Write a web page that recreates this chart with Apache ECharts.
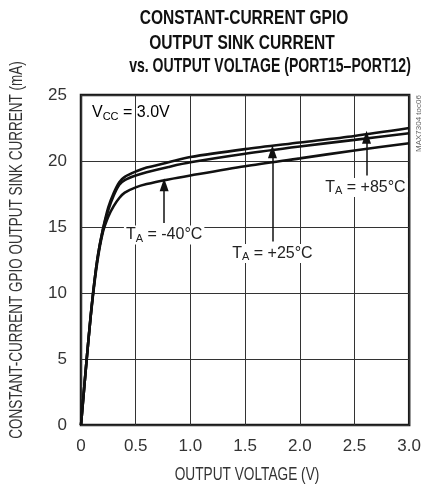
<!DOCTYPE html>
<html>
<head>
<meta charset="utf-8">
<script src="https://cdn.jsdelivr.net/npm/echarts@6/dist/echarts.min.js"></script>
<style>
html, body { margin: 0; padding: 0; background: #fff; }
#chart { width: 424px; height: 489px; }
</style>
</head>
<body>
<div id="chart"></div>
<script>
// output voltage (V)
var volts = [0, 0.05, 0.1, 0.15, 0.2, 0.25, 0.3, 0.35, 0.4, 0.5, 0.6, 0.8, 1.0, 1.5, 2.0, 2.5, 3.0];
// sink current (mA) for each curve
var curveTop = [0, 4.8, 9.2, 12.6, 14.8, 16.5, 17.6, 18.4, 18.8, 19.2, 19.5, 19.9, 20.3, 20.9, 21.4, 21.9, 22.5];
var curveMid = [0, 4.8, 9.2, 12.6, 14.8, 16.3, 17.4, 18.2, 18.55, 18.9, 19.15, 19.55, 19.9, 20.55, 21.1, 21.6, 22.1];
var curveLow = [0, 4.8, 9.1, 12.4, 14.6, 15.8, 16.6, 17.2, 17.6, 18.0, 18.25, 18.6, 18.9, 19.6, 20.2, 20.8, 21.35];
var xTicks = ['0', '0.5', '1.0', '1.5', '2.0', '2.5', '3.0'];
var titleLines = ['CONSTANT-CURRENT GPIO', 'OUTPUT SINK CURRENT', 'vs. OUTPUT VOLTAGE (PORT15\u2013PORT12)'];

var FONT = '"Liberation Sans Narrow", "Liberation Sans", sans-serif';

function pairs(ys) {
    return volts.map(function (v, i) { return [v, ys[i]]; });
}

function taLabel(txt) {
    return '{t|T}{s|A}{t| = ' + txt + '}';
}

var labelRich = {
    t: { fontFamily: FONT, fontSize: 16, color: '#222' },
    s: { fontFamily: FONT, fontSize: 11, color: '#222', padding: [8, 0, 0, 0] }
};

function arrow(x, y0, y1) {
    return [{ coord: [x, y0] }, { coord: [x, y1] }];
}

function note(x, y, text) {
    return {
        coord: [x, y],
        symbol: 'rect',
        symbolSize: 1,
        itemStyle: { color: 'rgba(0,0,0,0)' },
        label: {
            show: true,
            position: 'inside',
            formatter: text,
            rich: labelRich,
            backgroundColor: '#fff',
            padding: [0, 2, 0, 2]
        }
    };
}

// condensed-looking text drawn with a horizontal squeeze
function squeezed(txt, x, y, size, sx, bold, rot) {
    return {
        type: 'text',
        x: x, y: y,
        scaleX: sx,
        rotation: rot || 0,
        style: {
            text: txt,
            fontFamily: FONT,
            fontSize: size,
            fontWeight: bold ? 'bold' : 'normal',
            fill: bold ? '#111' : '#333',
            align: 'center',
            verticalAlign: 'middle'
        }
    };
}

var chart = echarts.init(document.getElementById('chart'));
chart.setOption({
    animation: false,
    grid: {
        left: 81, right: 11, top: 95, bottom: 64,
        show: true,
        borderColor: '#1a1a1a',
        borderWidth: 2.5
    },
    xAxis: {
        type: 'value',
        min: 0, max: 3, interval: 0.5,
        axisLine: { show: false },
        axisTick: { show: false },
        axisLabel: {
            margin: 13,
            fontFamily: FONT, fontSize: 17, color: '#333',
            formatter: function (v) { return xTicks[Math.round(v / 0.5)]; }
        },
        splitLine: { show: true, lineStyle: { color: '#333', width: 1 } }
    },
    yAxis: {
        type: 'value',
        min: 0, max: 25, interval: 5,
        axisLine: { show: false },
        axisTick: { show: false },
        axisLabel: { margin: 14, fontFamily: FONT, fontSize: 17, color: '#333' },
        splitLine: { show: true, lineStyle: { color: '#333', width: 1 } }
    },
    graphic: [
        squeezed(titleLines[0], 244, 18, 21, 0.74, true),
        squeezed(titleLines[1], 242, 43, 21, 0.74, true),
        squeezed(titleLines[2], 270, 66, 21, 0.67, true),
        squeezed('OUTPUT VOLTAGE (V)', 247, 475, 19, 0.72, false),
        squeezed('CONSTANT-CURRENT GPIO OUTPUT SINK CURRENT (mA)', 17, 250, 19, 0.71, false, Math.PI / 2),
        {
            type: 'text',
            left: 92, top: 105,
            style: {
                text: '{t|V}{s|CC}{t| = 3.0V}',
                rich: labelRich
            }
        },
        {
            type: 'text',
            x: 419, y: 152,
            rotation: Math.PI / 2,
            style: {
                text: 'MAX7304 toc06',
                fontFamily: FONT,
                fontSize: 8,
                fill: '#666',
                align: 'left',
                verticalAlign: 'middle'
            }
        }
    ],
    series: [
        {
            type: 'line', data: pairs(curveTop), smooth: 0.3, symbol: 'none',
            lineStyle: { color: '#111', width: 2.6 }
        },
        {
            type: 'line', data: pairs(curveMid), smooth: 0.3, symbol: 'none',
            lineStyle: { color: '#111', width: 2.6 }
        },
        {
            type: 'line', data: pairs(curveLow), smooth: 0.3, symbol: 'none',
            lineStyle: { color: '#111', width: 2.6 },
            markLine: {
                silent: true,
                symbol: ['none', 'triangle'],
                symbolSize: [9, 13],
                lineStyle: { color: '#111', width: 1.5, type: 'solid' },
                label: { show: false },
                data: [
                    arrow(0.76, 15.3, 18.2),
                    arrow(1.75, 13.9, 20.7),
                    arrow(2.61, 18.9, 21.8)
                ]
            },
            markPoint: {
                silent: true,
                data: [
                    note(0.76, 14.4, taLabel('-40\u00b0C')),
                    note(1.75, 13.0, taLabel('+25\u00b0C')),
                    note(2.6, 18.0, taLabel('+85\u00b0C'))
                ]
            }
        }
    ]
});
</script>
</body>
</html>
